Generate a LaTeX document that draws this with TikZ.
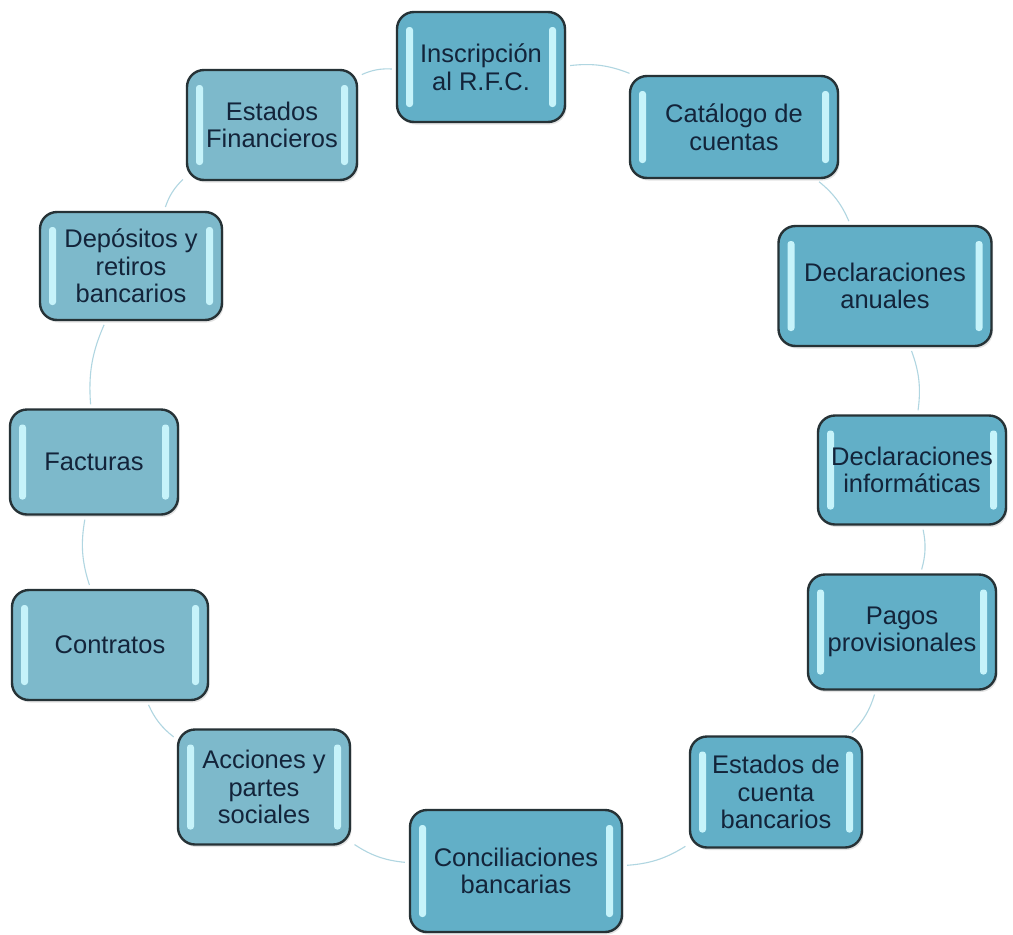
\documentclass[tikz,border=0pt]{standalone}
\usepackage{fontspec}
\setmainfont{Liberation Sans}
\usetikzlibrary{shadows}
\definecolor{boxfill}{HTML}{62AFC7}
\definecolor{boxfillpale}{HTML}{7DB9CB}
\definecolor{boxline}{HTML}{263236}
\definecolor{boxtext}{HTML}{13243A}
\definecolor{glint}{HTML}{C6F3FA}
\definecolor{linkline}{HTML}{B0D6E1}
\tikzset{
  stage/.style={
    draw=boxline, line width=2.4pt, rounded corners=17pt,
    fill=boxfill, text=boxtext, align=center,
    font=\fontsize{25.5}{27.5}\selectfont, inner sep=0pt,
    drop shadow={opacity=0.22, shadow xshift=1.5pt, shadow yshift=-2.5pt},
    path picture={
      \fill[glint, rounded corners=3pt]
        ([xshift=9pt,yshift=-15pt]path picture bounding box.north west)
        rectangle ([xshift=16pt,yshift=15pt]path picture bounding box.south west);
      \fill[glint, rounded corners=3pt]
        ([xshift=-9pt,yshift=-15pt]path picture bounding box.north east)
        rectangle ([xshift=-16pt,yshift=15pt]path picture bounding box.south east);
    }},
  pale/.style={fill=boxfillpale},
  link/.style={draw=linkline, line width=1.1pt, bend left=14, shorten <=4pt, shorten >=4pt}
}
\begin{document}
\begin{tikzpicture}[x=1pt,y=-1pt]
  \useasboundingbox[fill=white] (0,0) rectangle (1013,935);

  % stages of the cycle, clockwise from the top
  \node[stage, minimum width=168pt, minimum height=110pt] (rfc) at (481,67) {Inscripción\\al R.F.C.};
  \node[stage, minimum width=208pt, minimum height=102pt] (cat) at (734,127) {Catálogo de\\cuentas};
  \node[stage, minimum width=213pt, minimum height=120pt] (anu) at (885,286) {Declaraciones\\anuales};
  \node[stage, minimum width=188pt, minimum height=109pt] (inf) at (912,470) {Declaraciones\\informáticas};
  \node[stage, minimum width=188pt, minimum height=115pt] (pag) at (902,632) {Pagos\\provisionales};
  \node[stage, minimum width=172pt, minimum height=111pt] (edo) at (776,792) {Estados de\\cuenta\\bancarios};
  \node[stage, minimum width=212pt, minimum height=122pt] (con) at (516,871) {Conciliaciones\\bancarias};
  \node[stage, pale, minimum width=172pt, minimum height=115pt] (acc) at (264,787) {Acciones y\\partes\\sociales};
  \node[stage, pale, minimum width=196pt, minimum height=110pt] (ctr) at (110,645) {Contratos};
  \node[stage, pale, minimum width=168pt, minimum height=105pt] (fac) at (94,462) {Facturas};
  \node[stage, pale, minimum width=182pt, minimum height=108pt] (dep) at (131,266) {Depósitos y\\retiros\\bancarios};
  \node[stage, pale, minimum width=170pt, minimum height=110pt] (fin) at (272,125) {Estados\\Financieros};

  % arcs joining neighbouring stages
  \draw[link] (rfc) to (cat);
  \draw[link] (cat) to (anu);
  \draw[link] (anu) to (inf);
  \draw[link] (inf) to (pag);
  \draw[link] (pag) to (edo);
  \draw[link] (edo) to (con);
  \draw[link] (con) to (acc);
  \draw[link] (acc) to (ctr);
  \draw[link] (ctr) to (fac);
  \draw[link] (fac) to (dep);
  \draw[link] (dep) to (fin);
  \draw[link] (fin) to (rfc);
\end{tikzpicture}
\end{document}
